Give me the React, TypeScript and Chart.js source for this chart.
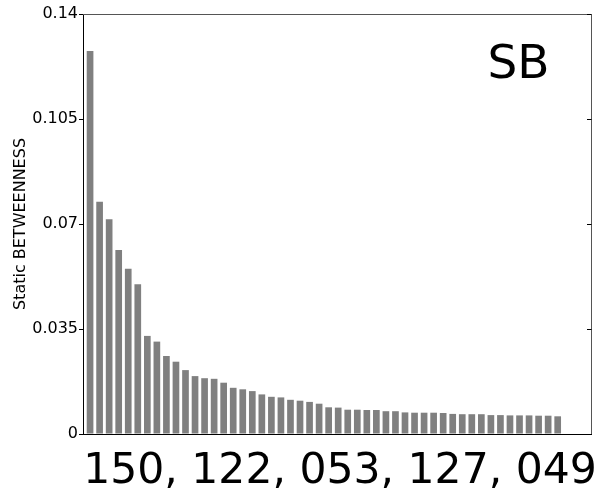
import React, { useEffect, useRef } from "react";
import { Chart, registerables } from "chart.js";

Chart.register(...registerables);

// Static betweenness of each node, sorted from highest to lowest
const betweenness: number[] = [
  0.1277, 0.0774, 0.0716, 0.0613, 0.0551, 0.0499, 0.0327, 0.0308, 0.026, 0.0241,
  0.0213, 0.0193, 0.0186, 0.0184, 0.0171, 0.0154, 0.0149, 0.0143, 0.0132, 0.0124,
  0.0122, 0.0114, 0.0111, 0.0107, 0.0101, 0.0089, 0.0088, 0.0081, 0.0081, 0.008,
  0.008, 0.0076, 0.0076, 0.0072, 0.0071, 0.0071, 0.0071, 0.007, 0.0067, 0.0066,
  0.0066, 0.0066, 0.0063, 0.0063, 0.0062, 0.0062, 0.0062, 0.0061, 0.0061, 0.0059,
];

const yTickLabels: string[] = ["0", "0.035", "0.07", "0.105", "0.14"];
const yTickValues: number[] = [0, 0.035, 0.07, 0.105, 0.14];
const xLabel = "150, 122, 053, 127, 049";
const panelTag = "SB";
const yTitle = "Static BETWEENNESS";

const FONT = "'DejaVu Sans', sans-serif";

// Top/right frame with inward ticks, the panel tag and the big x label
const framePlugin = {
  id: "frame",
  afterDraw(chart: any) {
    const { ctx, chartArea } = chart;
    const { left, right, top, bottom } = chartArea;
    const yScale = chart.scales.y;
    ctx.save();
    ctx.strokeStyle = "#555";
    ctx.lineWidth = 1;
    ctx.beginPath();
    ctx.moveTo(left, top + 0.5);
    ctx.lineTo(right + 0.5, top + 0.5);
    ctx.lineTo(right + 0.5, bottom);
    ctx.stroke();
    ctx.strokeStyle = "#000";
    ctx.beginPath();
    yTickValues.forEach((v) => {
      const py = Math.round(yScale.getPixelForValue(v)) + 0.5;
      ctx.moveTo(right + 0.5, py);
      ctx.lineTo(right - 4, py);
    });
    ctx.stroke();

    ctx.fillStyle = "#000";
    ctx.font = `47px ${FONT}`;
    ctx.textBaseline = "alphabetic";
    ctx.textAlign = "left";
    ctx.fillText(panelTag, 487.5, 78);

    ctx.textAlign = "center";
    ctx.font = `42.5px ${FONT}`;
    ctx.fillText(xLabel, (left + right) / 2 + 3, 483);
    ctx.restore();
  },
};

export default function App() {
  const canvasRef = useRef<HTMLCanvasElement | null>(null);

  useEffect(() => {
    if (!canvasRef.current) return;
    const chart = new Chart(canvasRef.current, {
      type: "bar",
      data: {
        datasets: [
          {
            data: betweenness.map((v, i) => ({ x: i, y: v })),
            backgroundColor: "#808080",
            borderWidth: 0,
            categoryPercentage: 1,
            barPercentage: 0.7,
          },
        ],
      },
      options: {
        animation: false,
        responsive: false,
        devicePixelRatio: 1,
        layout: { padding: { top: 14, right: 10, left: 0, bottom: 0 } },
        plugins: { legend: { display: false }, tooltip: { enabled: false } },
        scales: {
          x: {
            type: "linear",
            offset: false,
            min: -0.74,
            max: 52.49,
            grid: { display: false, drawTicks: false, offset: false },
            border: { display: true, color: "#000", width: 1 },
            ticks: { display: false },
            afterFit: (s: any) => {
              s.height = 57;
            },
          },
          y: {
            min: 0,
            max: 0.14,
            afterBuildTicks: (s: any) => {
              s.ticks = yTickValues.map((v) => ({ value: v }));
            },
            ticks: {
              callback: (_v: any, i: number) => yTickLabels[i],
              color: "#000",
              padding: 1,
              font: { family: FONT, size: 16 },
            },
            grid: {
              drawOnChartArea: false,
              drawTicks: true,
              tickLength: 4,
              tickColor: "#000",
            },
            border: { display: true, color: "#000", width: 1 },
            title: {
              display: true,
              text: yTitle,
              color: "#000",
              font: { family: FONT, size: 16 },
              padding: { top: 11, bottom: 0 },
            },
            afterFit: (s: any) => {
              s.width = 83;
            },
          },
        },
      },
      plugins: [framePlugin],
    });
    return () => chart.destroy();
  }, []);

  return (
    <div style={{ position: "fixed", left: 0, top: 0, width: 601, height: 491, background: "#fff" }}>
      <canvas ref={canvasRef} width={601} height={491} />
    </div>
  );
}
